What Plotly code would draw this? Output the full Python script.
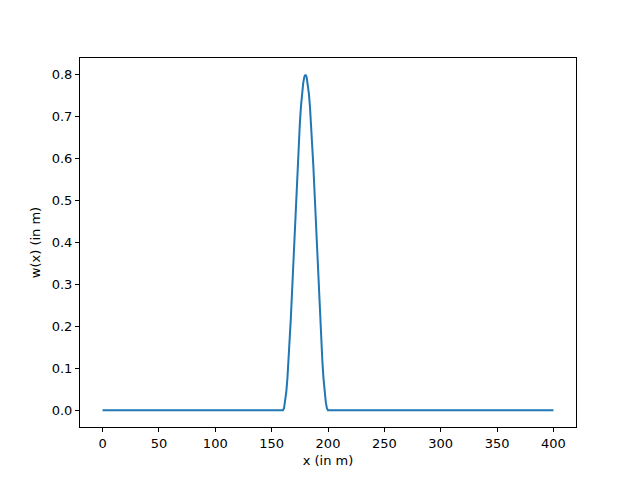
import plotly.graph_objects as go

# x positions (m) and deflection values
x_vals = [0, 50, 100, 150] + list(range(160, 201)) + [250, 300, 350, 400]
w_rise = [0.0, 0.005, 0.020, 0.044, 0.076, 0.117, 0.165, 0.218, 0.276, 0.337,
          0.400, 0.463, 0.524, 0.582, 0.635, 0.683, 0.724, 0.756, 0.780, 0.795]
w_vals = ([0.0, 0.0, 0.0, 0.0] + w_rise + [0.800] + w_rise[::-1]
          + [0.0, 0.0, 0.0, 0.0])

x_ticks = [0, 50, 100, 150, 200, 250, 300, 350, 400]
y_ticks = [0.0, 0.1, 0.2, 0.3, 0.4, 0.5, 0.6, 0.7, 0.8]

fig = go.Figure()
fig.add_trace(go.Scatter(x=x_vals, y=w_vals, mode="lines",
                         line=dict(color="#1f77b4", width=2)))

axis_common = dict(showline=True, linecolor="black", linewidth=1, mirror=True,
                   ticks="outside", ticklen=4, tickcolor="black", showgrid=False,
                   zeroline=False, automargin=False, tickfont=dict(size=13, color="black"))
fig.update_xaxes(range=[-20, 420], tickvals=x_ticks, ticktext=[str(v) for v in x_ticks],
                 title=dict(text="x (in m)", font=dict(size=13, color="black"), standoff=6),
                 **axis_common)
fig.update_yaxes(range=[-0.04, 0.84], tickvals=y_ticks, ticktext=[f"{v:.1f}" for v in y_ticks],
                 title=dict(text="w(x) (in m)", font=dict(size=13, color="black"), standoff=8),
                 **axis_common)
fig.update_layout(width=640, height=480, margin=dict(l=80, r=64, t=58, b=53),
                  paper_bgcolor="white", plot_bgcolor="white", showlegend=False,
                  font=dict(family="DejaVu Sans", size=13, color="black"))
fig.write_html("out.html", config={"displayModeBar": False},
               post_script="document.body.style.margin='0px';")
